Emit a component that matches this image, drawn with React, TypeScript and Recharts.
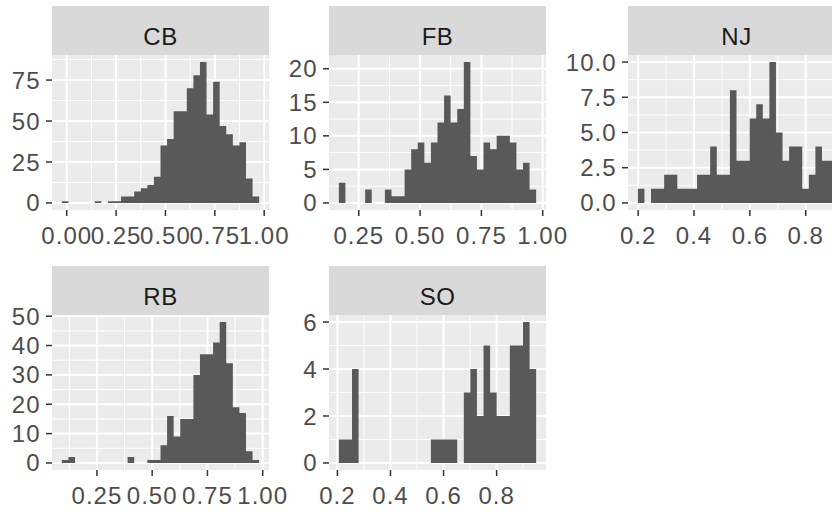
import React from 'react';
import { AreaChart, Area, XAxis, YAxis, CartesianGrid } from 'recharts';

// histogram counts, 30 bins per facet
const cbCounts = [1, 0, 0, 0, 0, 1, 0, 1, 1, 4, 4, 7, 9, 11, 16, 35, 39, 56, 56, 70, 78, 86, 54, 74, 47, 42, 35, 37, 15, 4];
const fbCounts = [3, 0, 0, 0, 2, 0, 0, 2, 1, 1, 5, 8, 9, 6, 9, 12, 16, 12, 14, 21, 7, 5, 9, 8, 10, 10, 9, 5, 6, 2];
const njCounts = [1, 0, 1, 1, 2, 2, 1, 1, 1, 2, 2, 4, 2, 2, 8, 3, 3, 6, 7, 6, 10, 5, 3, 4, 4, 1, 2, 4, 3, 3];
const rbCounts = [1, 2, 0, 0, 0, 0, 0, 0, 0, 0, 2, 0, 0, 1, 1, 6, 16, 9, 15, 15, 30, 37, 37, 41, 48, 34, 19, 17, 4, 1];
const soCounts = [1, 1, 4, 0, 0, 0, 0, 0, 0, 0, 0, 0, 0, 0, 1, 1, 1, 1, 0, 3, 4, 2, 5, 3, 2, 2, 5, 5, 6, 4];

// left edge of the first bin and bin width
const cbBins = { start: -0.0246, width: 0.0333 };
const fbBins = { start: 0.1689, width: 0.02681 };
const njBins = { start: 0.199, width: 0.02354 };
const rbBins = { start: 0.0914, width: 0.02975 };
const soBins = { start: 0.2055, width: 0.02478 };

// axis breaks
const cbXTicks = [0, 0.25, 0.5, 0.75, 1];
const cbXMinor = [0.125, 0.375, 0.625, 0.875];
const cbYTicks = [0, 25, 50, 75];
const cbYMinor = [12.5, 37.5, 62.5, 87.5];

const fbXTicks = [0.25, 0.5, 0.75, 1];
const fbXMinor = [0.375, 0.625, 0.875];
const fbYTicks = [0, 5, 10, 15, 20];
const fbYMinor = [2.5, 7.5, 12.5, 17.5];

const njXTicks = [0.2, 0.4, 0.6, 0.8];
const njXMinor = [0.3, 0.5, 0.7, 0.9];
const njYTicks = [0, 2.5, 5, 7.5, 10];
const njYMinor = [1.25, 3.75, 6.25, 8.75];

const rbXTicks = [0.25, 0.5, 0.75, 1];
const rbXMinor = [0.125, 0.375, 0.625, 0.875];
const rbYTicks = [0, 10, 20, 30, 40, 50];
const rbYMinor = [5, 15, 25, 35, 45];

const soXTicks = [0.2, 0.4, 0.6, 0.8];
const soXMinor = [0.3, 0.5, 0.7, 0.9];
const soYTicks = [0, 2, 4, 6];
const soYMinor = [1, 3, 5];

const FONT = '"Liberation Sans", Arial, sans-serif';
const FONT_SIZE = 24;
const Y_AXIS_W = 66;
const X_AXIS_H = 50;
const STRIP_H = 49;
const PANEL_W = 217;
const PANEL_H = 155;
const PAD_TOP = 15; // room for labels poking out of the panel
const PAD_RIGHT = 30;

interface FacetProps {
  label: string;
  left: number;
  top: number; // top of the strip
  counts: number[];
  bins: { start: number; width: number };
  xTicks: number[];
  xMinor: number[];
  yTicks: number[];
  yMinor: number[];
  xDigits: number;
  yDigits: number;
}

const Facet: React.FC<FacetProps> = ({
  label, left, top, counts, bins, xTicks, xMinor, yTicks, yMinor, xDigits, yDigits
}) => {
  // bin edges -> step area (last point closes the final bin)
  const data = counts.map((c, i) => ({ x: bins.start + i * bins.width, y: c }));
  data.push({ x: bins.start + counts.length * bins.width, y: 0 });

  const range = counts.length * bins.width;
  const xDomain = [bins.start - 0.05 * range, bins.start + 1.05 * range];
  const maxC = Math.max(...counts);
  const yDomain = [-0.05 * maxC, 1.05 * maxC];

  const tickStyle = { fill: '#4D4D4D', fontSize: FONT_SIZE, fontFamily: FONT };

  return (
    <>
      <svg
        width={PANEL_W}
        height={STRIP_H}
        style={{ position: 'absolute', left, top }}
      >
        <rect x={0} y={0} width={PANEL_W} height={STRIP_H} fill="#D9D9D9" />
        <text
          x={PANEL_W / 2}
          y={38.5}
          textAnchor="middle"
          fill="#1A1A1A"
          fontSize={FONT_SIZE}
          fontFamily={FONT}
          letterSpacing={0.5}
        >
          {label}
        </text>
      </svg>
      <div style={{ position: 'absolute', left: left - Y_AXIS_W, top: top + STRIP_H - PAD_TOP }}>
        <AreaChart
          width={Y_AXIS_W + PANEL_W + PAD_RIGHT}
          height={PAD_TOP + PANEL_H + X_AXIS_H}
          data={data}
          margin={{ top: PAD_TOP, right: PAD_RIGHT, bottom: 0, left: 0 }}
        >
          <CartesianGrid
            fill="#EBEBEB"
            stroke="#FFFFFF"
            strokeWidth={1}
            horizontalValues={yMinor}
            verticalValues={xMinor}
          />
          <CartesianGrid
            fill="none"
            stroke="#FFFFFF"
            strokeWidth={2}
            horizontalValues={yTicks}
            verticalValues={xTicks}
          />
          <XAxis
            dataKey="x"
            type="number"
            domain={xDomain}
            allowDataOverflow
            ticks={xTicks}
            interval={0}
            height={X_AXIS_H}
            tickSize={6}
            tickMargin={11}
            axisLine={false}
            tickLine={{ stroke: '#333333', strokeWidth: 1.5 }}
            tick={tickStyle}
            tickFormatter={(v: number) => v.toFixed(xDigits)}
          />
          <YAxis
            type="number"
            domain={yDomain}
            allowDataOverflow
            ticks={yTicks}
            interval={0}
            width={Y_AXIS_W}
            tickSize={6}
            tickMargin={5.5}
            axisLine={false}
            tickLine={{ stroke: '#333333', strokeWidth: 1.5 }}
            tick={tickStyle}
            tickFormatter={(v: number) => v.toFixed(yDigits)}
          />
          <Area
            type="stepAfter"
            dataKey="y"
            baseValue={0}
            fill="#595959"
            fillOpacity={1}
            stroke="none"
            isAnimationActive={false}
          />
        </AreaChart>
      </div>
    </>
  );
};

const App: React.FC = () => {
  return (
    <div
      style={{
        position: 'absolute',
        left: 0,
        top: 0,
        width: 832,
        height: 513,
        overflow: 'hidden',
        background: '#FFFFFF'
      }}
    >
      <style>{'.recharts-cartesian-axis-tick-value { letter-spacing: 1px; }'}</style>
      <Facet label="CB" left={52} top={6} counts={cbCounts} bins={cbBins}
        xTicks={cbXTicks} xMinor={cbXMinor} yTicks={cbYTicks} yMinor={cbYMinor} xDigits={2} yDigits={0} />
      <Facet label="FB" left={329} top={6} counts={fbCounts} bins={fbBins}
        xTicks={fbXTicks} xMinor={fbXMinor} yTicks={fbYTicks} yMinor={fbYMinor} xDigits={2} yDigits={0} />
      <Facet label="NJ" left={628} top={6} counts={njCounts} bins={njBins}
        xTicks={njXTicks} xMinor={njXMinor} yTicks={njYTicks} yMinor={njYMinor} xDigits={1} yDigits={1} />
      <Facet label="RB" left={52} top={266} counts={rbCounts} bins={rbBins}
        xTicks={rbXTicks} xMinor={rbXMinor} yTicks={rbYTicks} yMinor={rbYMinor} xDigits={2} yDigits={0} />
      <Facet label="SO" left={329} top={266} counts={soCounts} bins={soBins}
        xTicks={soXTicks} xMinor={soXMinor} yTicks={soYTicks} yMinor={soYMinor} xDigits={1} yDigits={0} />
    </div>
  );
};

export default App;
